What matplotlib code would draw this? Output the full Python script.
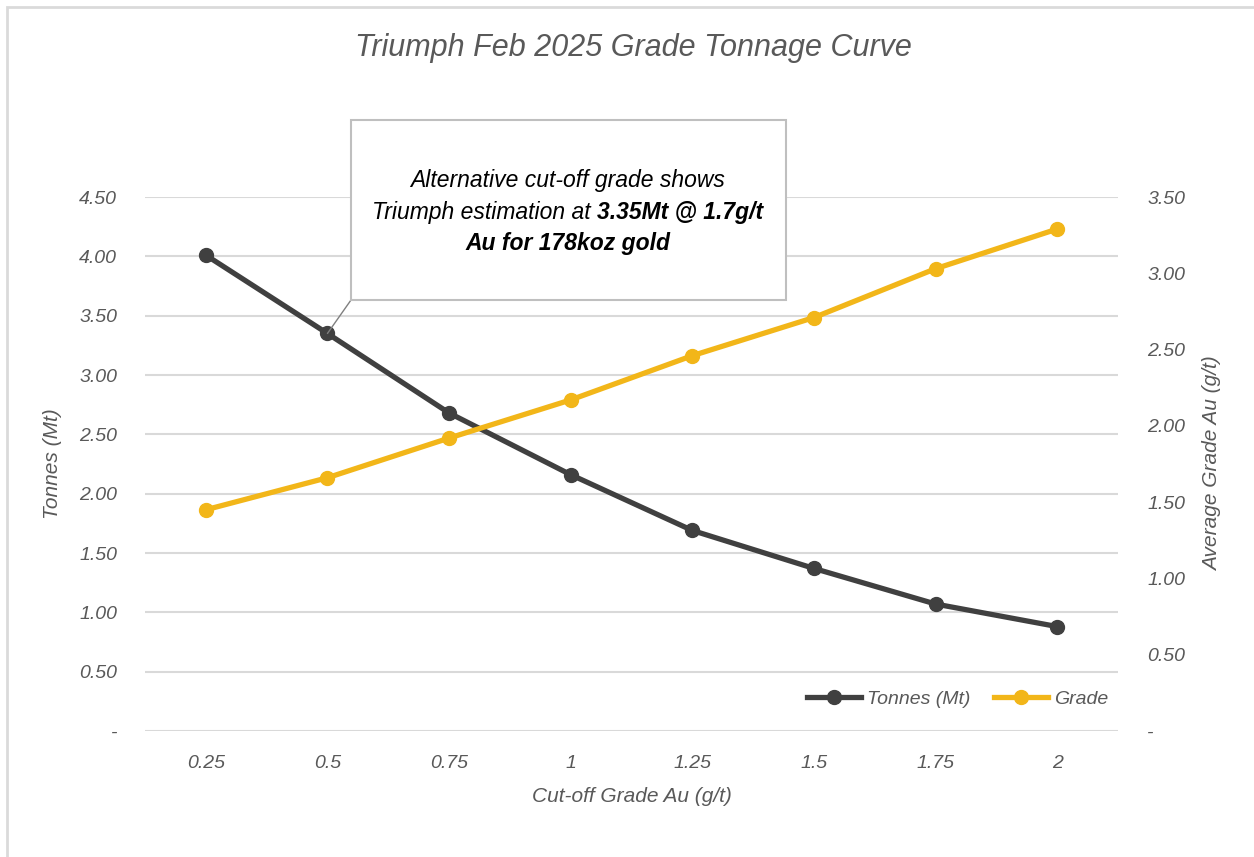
import matplotlib
matplotlib.use("Agg")
import matplotlib.pyplot as plt
from matplotlib.patches import Rectangle
from matplotlib.lines import Line2D

categories = ["0.25", "0.5", "0.75", "1", "1.25", "1.5", "1.75", "2"]
tonnes = [4.01, 3.35, 2.68, 2.16, 1.69, 1.37, 1.07, 0.88]
grade = [1.45, 1.66, 1.92, 2.17, 2.46, 2.71, 3.03, 3.29]
left_ticks = [0, 0.5, 1.0, 1.5, 2.0, 2.5, 3.0, 3.5, 4.0, 4.5]
right_ticks = [0, 0.5, 1.0, 1.5, 2.0, 2.5, 3.0, 3.5]

W, H = 1254, 857
plt.rcParams['font.family'] = ['Liberation Sans', 'DejaVu Sans']
fig = plt.figure(figsize=(W / 100, H / 100), dpi=100)
fig.patch.set_facecolor('white')

GRAY = '#595959'
DARK = '#404040'
GOLD = '#F2B619'
GRID = '#d9d9d9'

# figure border
fig.add_artist(Rectangle((7 / W, -0.1), 1.2, 1.1 - 7 / H, transform=fig.transFigure,
                         fill=False, edgecolor='#dadada', lw=2))

ax = fig.add_axes([145 / W, 1 - 731 / H, (1118 - 145) / W, (731 - 197) / H])
ax2 = ax.twinx()

x = list(range(len(categories)))
ax.plot(x, tonnes, color=DARK, lw=3.8, marker='o', ms=10, zorder=3, clip_on=False)
ax2.plot(x, grade, color=GOLD, lw=3.8, marker='o', ms=10, zorder=3, clip_on=False)

ax.set_xlim(-0.5, len(categories) - 0.5)
ax.set_ylim(0, 4.5)
ax2.set_ylim(0, 3.5)
ax.set_yticks(left_ticks)
ax2.set_yticks(right_ticks)
fmt = lambda v: '-' if v == 0 else f"{v:.2f}"
ax.set_yticklabels([fmt(v) for v in left_ticks])
ax2.set_yticklabels([fmt(v) for v in right_ticks])
ax.set_xticks(x)
ax.set_xticklabels(categories)

for a in (ax, ax2):
    for s in a.spines.values():
        s.set_visible(False)
    a.tick_params(length=0, labelsize=14, labelcolor=GRAY)
    for lab in a.get_xticklabels() + a.get_yticklabels():
        lab.set_fontstyle('italic')
ax.tick_params(axis='y', pad=20)
ax2.tick_params(axis='y', pad=21)
ax.tick_params(axis='x', pad=17)
ax.yaxis.grid(True, color=GRID, lw=1.5)
ax.set_axisbelow(True)

ax.set_ylabel('Tonnes (Mt)', fontsize=15, color=GRAY, style='italic')
ax2.set_ylabel('Average Grade Au (g/t)', fontsize=15, color=GRAY, style='italic')
ax.set_xlabel('Cut-off Grade Au (g/t)', fontsize=15, color=GRAY, style='italic')
ax.yaxis.set_label_coords((52 - 145) / 973, 0.5)
ax2.yaxis.set_label_coords((1213 - 145) / 973, 0.5)
ax.xaxis.set_label_coords(0.5, -(797 - 731) / 534)
ax.xaxis.label.set_va('center')
ax.yaxis.label.set_va('center')
ax2.yaxis.label.set_va('center')

fig.text(633 / W, 1 - 48 / H, 'Triumph Feb 2025 Grade Tonnage Curve', fontsize=22,
         color=GRAY, style='italic', ha='center', va='center')

handles = [Line2D([], [], color=DARK, lw=3.8, marker='o', ms=10),
           Line2D([], [], color=GOLD, lw=3.8, marker='o', ms=10)]
leg = ax2.legend(handles, ['Tonnes (Mt)', 'Grade'], loc='lower right', ncol=2, frameon=False,
                 fontsize=14, handlelength=2.8, columnspacing=1.2, handletextpad=0.3,
                 bbox_to_anchor=(1.008, 0.01))
for t in leg.get_texts():
    t.set_color(GRAY)
    t.set_fontstyle('italic')

# annotation box
bx0, by0, bx1, by1 = 351, 120, 786, 300
fig.add_artist(Rectangle((bx0 / W, 1 - by1 / H), (bx1 - bx0) / W, (by1 - by0) / H,
                         transform=fig.transFigure, facecolor='white', edgecolor='#bfbfbf',
                         lw=1.5, zorder=5))
ax.annotate('', xy=(1, tonnes[1]), xycoords='data', xytext=(bx0 / W, 1 - by1 / H),
            textcoords='figure fraction',
            arrowprops=dict(arrowstyle='-', color='#7f7f7f', lw=1, shrinkA=0, shrinkB=0),
            zorder=6, annotation_clip=False)

cx = 568 / W
fs = 16.5
fig.text(cx, 1 - 180 / H, 'Alternative cut-off grade shows', fontsize=fs, style='italic',
         ha='center', va='center', color='black', zorder=7)
t_a = fig.text(0, 1 - 212 / H, 'Triumph estimation at ', fontsize=fs, style='italic',
               ha='left', va='center', color='black', zorder=7)
t_b = fig.text(0, 1 - 212 / H, '3.35Mt @ 1.7g/t', fontsize=fs, style='italic', weight='bold',
               ha='left', va='center', color='black', zorder=7)
fig.text(cx, 1 - 244 / H, 'Au for 178koz gold', fontsize=fs, style='italic', weight='bold',
         ha='center', va='center', color='black', zorder=7)
fig.canvas.draw()
r = fig.canvas.get_renderer()
wa = t_a.get_window_extent(r).width
wb = t_b.get_window_extent(r).width
start = cx * W - (wa + wb) / 2
t_a.set_x(start / W)
t_b.set_x((start + wa) / W)

fig.savefig('out.png', dpi=100)
